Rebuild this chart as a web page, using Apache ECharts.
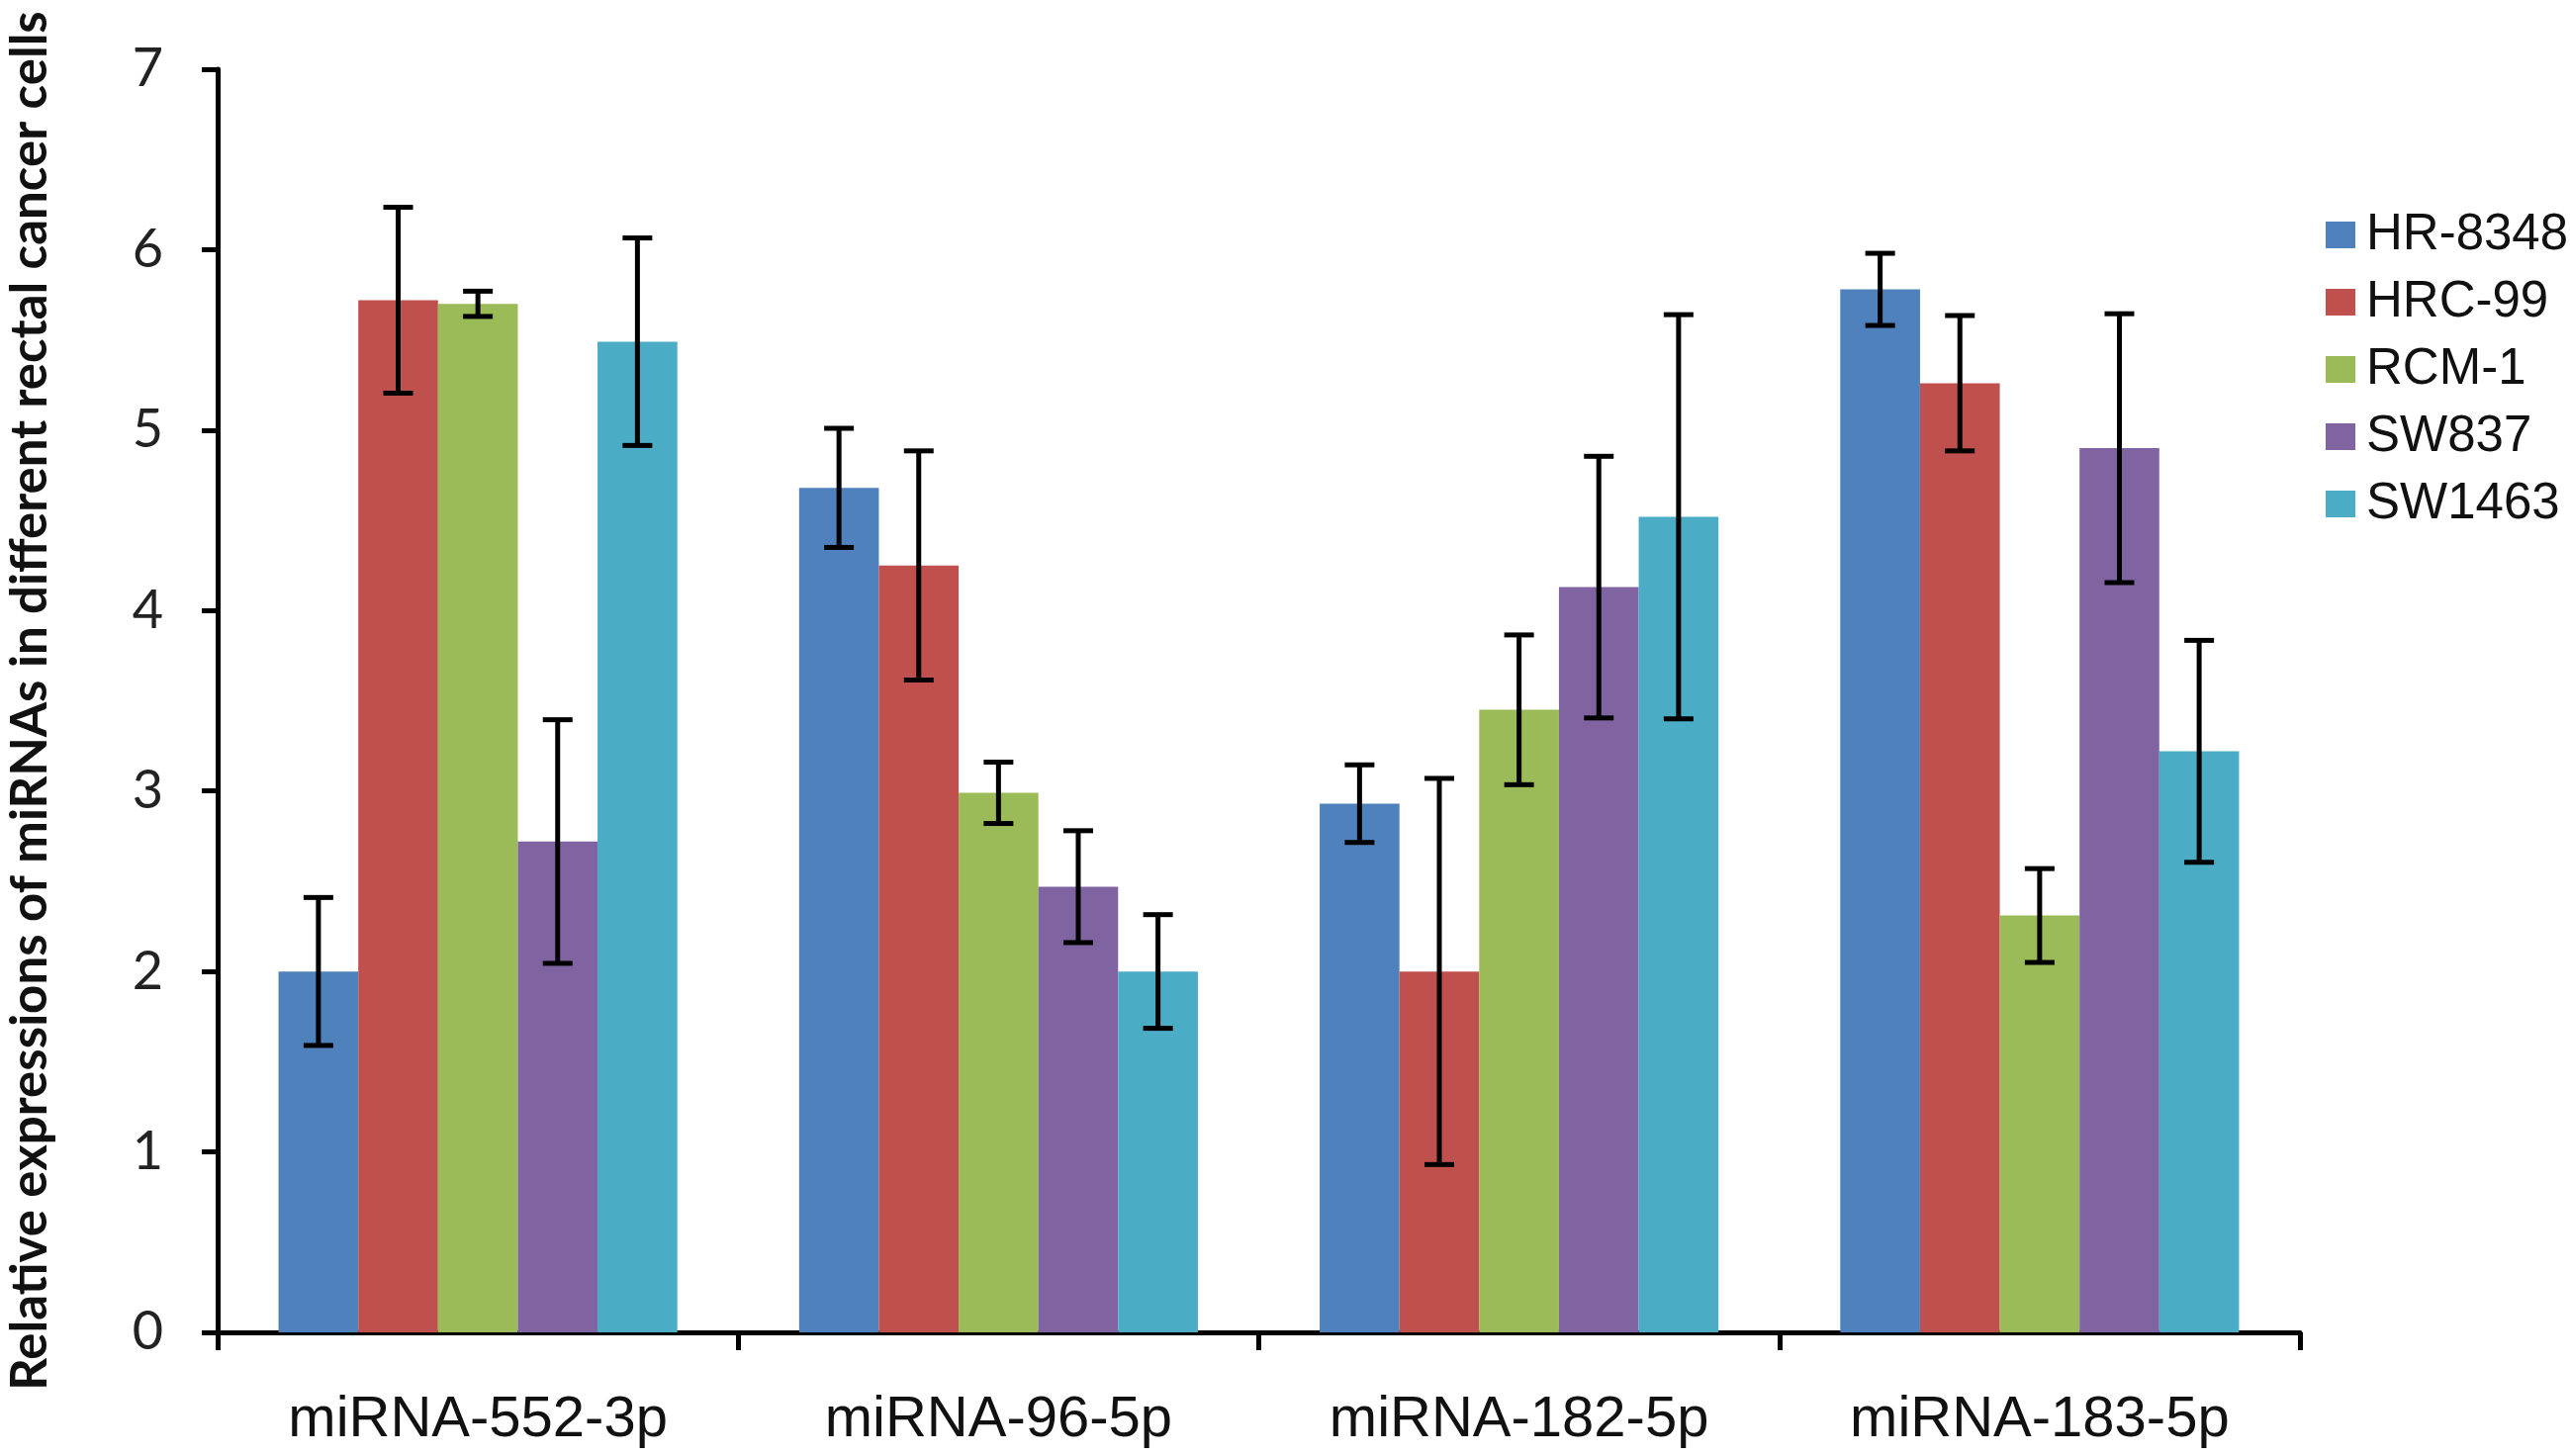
<!doctype html>
<html>
    <head>
        <meta charset="utf-8">
        <title>miRNA expression</title>
        <style>
            html, body { margin: 0; padding: 0; background: #fff; }
            #main { width: 2598px; height: 1472px; }
        </style>
    </head>
    <body>
        <div id="main"></div>
        <script src="https://cdn.jsdelivr.net/npm/echarts@6/dist/echarts.min.js"></script>
        <script>
            var categories = ['miRNA-552-3p', 'miRNA-96-5p', 'miRNA-182-5p', 'miRNA-183-5p'];
            var cells = ['HR-8348', 'HRC-99', 'RCM-1', 'SW837', 'SW1463'];
            var yTicks = [0, 1, 2, 3, 4, 5, 6, 7];

            // mean values, one array per cell line (in category order)
            var hr8348 = [2.00, 4.68, 2.93, 5.78];
            var hrc99 = [5.72, 4.25, 2.00, 5.26];
            var rcm1 = [5.70, 2.99, 3.45, 2.31];
            var sw837 = [2.72, 2.47, 4.13, 4.90];
            var sw1463 = [5.49, 2.00, 4.52, 3.22];

            // error bar half-lengths
            var hr8348Err = [0.41, 0.33, 0.215, 0.20];
            var hrc99Err = [0.515, 0.635, 1.07, 0.375];
            var rcm1Err = [0.07, 0.17, 0.415, 0.26];
            var sw837Err = [0.675, 0.31, 0.725, 0.745];
            var sw1463Err = [0.575, 0.315, 1.12, 0.615];

            var means = [hr8348, hrc99, rcm1, sw837, sw1463];
            var errs = [hr8348Err, hrc99Err, rcm1Err, sw837Err, sw1463Err];
            var colors = ['#4F81BD', '#C0504D', '#9BBB59', '#8064A2', '#4BACC6'];

            var catGap = 0.234;

            var chart = echarts.init(document.getElementById('main'));

            var series = cells.map(function (name, i) {
                return {
                    name: name,
                    type: 'bar',
                    data: means[i],
                    barGap: '0%',
                    barCategoryGap: (catGap * 100) + '%',
                    itemStyle: { color: colors[i] }
                };
            });

            var errData = [];
            cells.forEach(function (name, s) {
                categories.forEach(function (cat, c) {
                    errData.push([c, s, means[s][c], errs[s][c]]);
                });
            });

            series.push({
                type: 'custom',
                name: 'err',
                z: 10,
                silent: true,
                encode: { x: 0, y: 2 },
                data: errData,
                renderItem: function (params, api) {
                    var c = api.value(0), s = api.value(1);
                    var m = api.value(2), e = api.value(3);
                    var n = cells.length;
                    var barW = api.size([1, 0])[0] * (1 - catGap) / n;
                    var x = api.coord([c, m])[0] + (s - (n - 1) / 2) * barW;
                    var yTop = api.coord([c, m + e])[1];
                    var yBot = api.coord([c, m - e])[1];
                    var cap = 15;
                    var st = { stroke: '#000', lineWidth: 5 };
                    return {
                        type: 'group',
                        children: [
                            { type: 'line', shape: { x1: x, y1: yTop, x2: x, y2: yBot }, style: st },
                            { type: 'line', shape: { x1: x - cap, y1: yTop, x2: x + cap, y2: yTop }, style: st },
                            { type: 'line', shape: { x1: x - cap, y1: yBot, x2: x + cap, y2: yBot }, style: st }
                        ]
                    };
                }
            });

            chart.setOption({
                animation: false,
                backgroundColor: '#fff',
                grid: {
                    left: 220, top: 70, right: 273, bottom: 125,
                    containLabel: false,
                    outerBoundsMode: 'none'
                },
                legend: {
                    data: cells,
                    orient: 'vertical',
                    left: 2346,
                    top: 207,
                    itemWidth: 30,
                    itemHeight: 27,
                    itemGap: 17,
                    icon: 'rect',
                    textStyle: {
                        fontFamily: 'Liberation Sans',
                        fontSize: 51,
                        lineHeight: 50,
                        color: '#111',
                        padding: [0, 0, 0, 6]
                    }
                },
                xAxis: {
                    type: 'category',
                    data: categories,
                    axisLine: { lineStyle: { color: '#000', width: 5 } },
                    axisTick: { show: true, interval: 0, length: 18, lineStyle: { color: '#000', width: 5 } },
                    axisLabel: {
                        margin: 60,
                        fontFamily: 'Liberation Sans',
                        fontSize: 58,
                        color: '#111'
                    }
                },
                yAxis: {
                    type: 'value',
                    min: yTicks[0],
                    max: yTicks[yTicks.length - 1],
                    interval: 1,
                    name: 'Relative expressions of miRNAs in different rectal cancer cells',
                    nameLocation: 'middle',
                    nameRotate: 90,
                    nameGap: 164,
                    nameTextStyle: {
                        fontFamily: 'Lato',
                        fontWeight: 'bold',
                        fontSize: 51,
                        color: '#111'
                    },
                    splitLine: { show: false },
                    axisLine: { show: true, lineStyle: { color: '#000', width: 5 } },
                    axisTick: { show: true, length: 16, lineStyle: { color: '#000', width: 5 } },
                    axisLabel: {
                        margin: 55,
                        fontFamily: 'Lato',
                        fontSize: 54,
                        color: '#222'
                    }
                },
                series: series
            });

            window.onresize = chart.resize;
        </script>
    </body>
</html>
